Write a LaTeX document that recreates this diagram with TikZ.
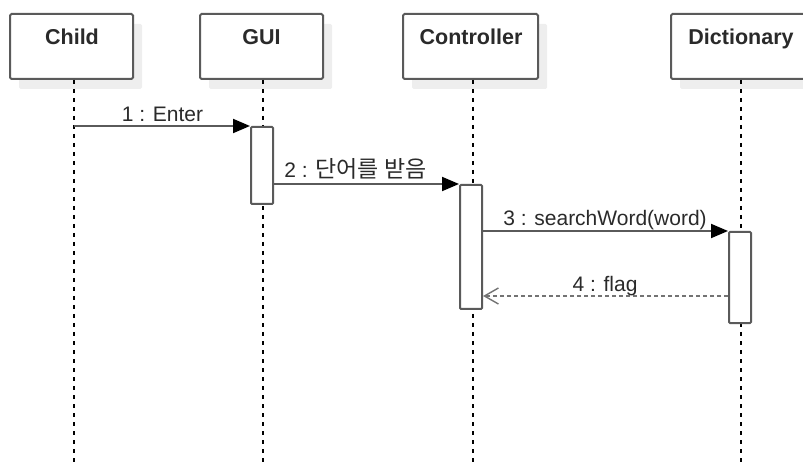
\documentclass[tikz,border=0pt]{standalone}
\usepackage{fontspec}
\setmainfont{Liberation Sans}
\newfontfamily\kr{Noto Sans CJK KR}
\usetikzlibrary{arrows.meta,shadows,calc}
\definecolor{edge}{HTML}{5A5A5A}
\definecolor{shade}{HTML}{EEEEEE}
\definecolor{ink}{HTML}{2A2A2A}
\begin{document}
\begin{tikzpicture}[x=1pt,y=-1pt,
  obj/.style={draw=edge, line width=2pt, rounded corners=1.5pt, fill=white,
    minimum height=65pt, inner sep=0pt,
    drop shadow={shadow xshift=9pt, shadow yshift=-10pt, fill=shade, opacity=1}},
  objtitle/.style={font=\fontsize{21.5}{24}\selectfont\bfseries, text=ink, inner sep=0pt, anchor=base},
  lifeline/.style={draw=black, line width=1.2pt, dash pattern=on 4pt off 5pt},
  actbar/.style={draw=edge, line width=2pt, rounded corners=1pt, fill=white,
    minimum width=22pt, inner sep=0pt},
  msg/.style={draw=edge, line width=2pt, -{Triangle[length=17pt,width=14pt,color=black,fill=black]}},
  ret/.style={draw=edge!85, line width=1.5pt, dash pattern=on 4pt off 3pt,
    -{Straight Barb[length=14pt,width=16pt,line width=1.4pt]}},
  msglabel/.style={font=\fontsize{21}{24}\selectfont, text=ink, inner sep=0pt, anchor=base}
]
\useasboundingbox (0,0) rectangle (803,462);

% object boxes
\node[obj, minimum width=123pt] (child) at (71.5,46.5) {};
\node[obj, minimum width=123pt] (gui) at (261.5,46.5) {};
\node[obj, minimum width=135pt] (ctrl) at (470.5,46.5) {};
\node[obj, minimum width=140pt] (dict) at (741,46.5) {};

\node[objtitle] (childT) at (72,45) {Child};
\node[objtitle] (guiT) at (261.5,45) {GUI};
\node[objtitle] (ctrlT) at (471,45) {Controller};
\node[objtitle] (dictT) at (741,45) {Dictionary};

% lifeline ends
\coordinate (childEnd) at (74,462);
\coordinate (guiEnd) at (263,462);
\coordinate (ctrlEnd) at (473,462);
\coordinate (dictEnd) at (741,462);

\draw[lifeline] (child.south -| childEnd) -- (childEnd);
\draw[lifeline] (gui.south -| guiEnd) -- (guiEnd);
\draw[lifeline] (ctrl.south -| ctrlEnd) -- (ctrlEnd);
\draw[lifeline] (dict.south -| dictEnd) -- (dictEnd);

% activation bars
\node[actbar, minimum height=77pt] (guiBar) at (262,165.5) {};
\node[actbar, minimum height=124pt] (ctrlBar) at (471,247) {};
\node[actbar, minimum height=91pt] (dictBar) at (740,277.5) {};

% messages
\draw[msg] (childEnd |- guiBar.north) -- (guiBar.north west);
\draw[msg] (guiBar.east |- ctrlBar.north) -- (ctrlBar.north west);
\draw[msg] (ctrlBar.east |- dictBar.north) -- (dictBar.north west);
\coordinate (retFrom) at ($(dictBar.north west)+(0,65)$);
\draw[ret] (retFrom) -- (retFrom -| ctrlBar.east);

% labels
\node[msglabel] (m1) at (162.5,122) {1 : Enter};
\node[msglabel] (m2) at (355.5,178) {2 : {\kr\fontsize{23}{24}\selectfont 단어를 받음}};
\node[msglabel] (m3) at (605,226) {3 : searchWord(word)};
\node[msglabel] (m4) at (605,291.5) {4 : flag};
\end{tikzpicture}
\end{document}
